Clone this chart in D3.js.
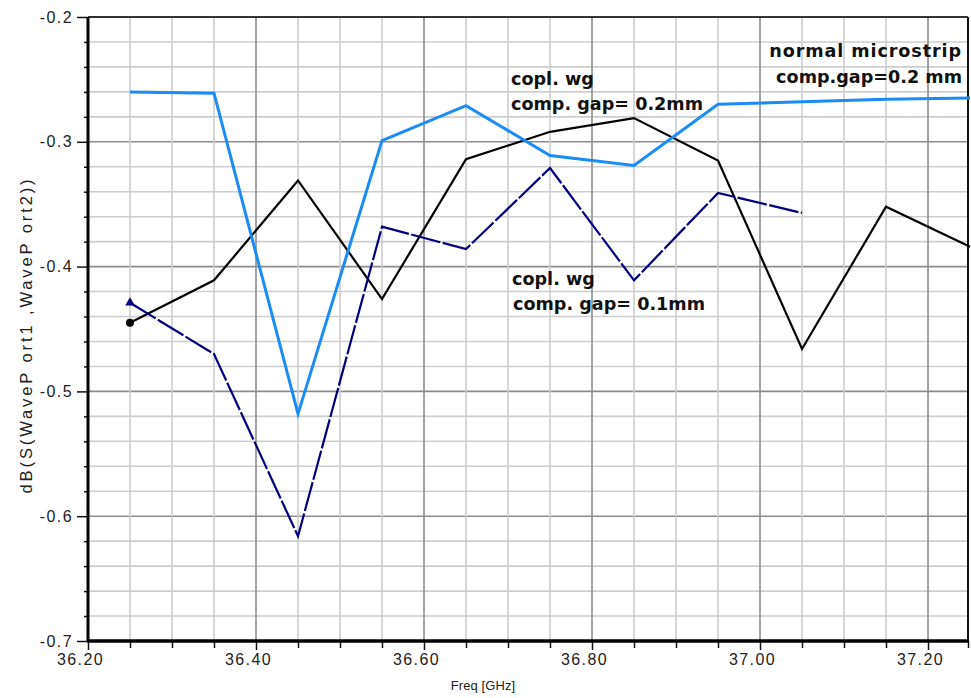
<!DOCTYPE html>
<html>
<head>
<meta charset="utf-8">
<script src="https://cdn.jsdelivr.net/npm/d3@7"></script>
<style>
  html, body { margin: 0; padding: 0; background: #fff; }
  svg { display: block; }
</style>
</head>
<body>
<svg id="chart" width="971" height="698"></svg>
<script>
// Frequency sweep points (GHz)
const freqAll = [36.25, 36.35, 36.45, 36.55, 36.65, 36.75, 36.85, 36.95, 37.05, 37.15, 37.25];
const freqShort = [36.25, 36.35, 36.45, 36.55, 36.65, 36.75, 36.85, 36.95, 37.05];

// Insertion loss, dB(S(WavePort1,WavePort2))
const microstrip02 = [-0.260, -0.261, -0.518, -0.299, -0.271, -0.311, -0.319, -0.270, -0.268, -0.266, -0.265];
const coplanar02   = [-0.445, -0.411, -0.331, -0.426, -0.314, -0.292, -0.281, -0.315, -0.466, -0.352, -0.384];
const coplanar01   = [-0.429, -0.470, -0.616, -0.368, -0.386, -0.321, -0.411, -0.341, -0.357];

// Axis ticks
const xTickLabels = ["36.20", "36.40", "36.60", "36.80", "37.00", "37.20"];
const yTickLabels = ["-0.2", "-0.3", "-0.4", "-0.5", "-0.6", "-0.7"];

const svg = d3.select("#chart");
const plotL = 88, plotR = 968, plotT = 17, plotB = 641;

const x = d3.scaleLinear().domain([36.2, 37.2476]).range([plotL, plotR]);
const y = d3.scaleLinear().domain([-0.7, -0.2]).range([plotB, plotT]);

// Grid
const vMinor = d3.range(36.25, 37.24, 0.05).map(v => +v.toFixed(2));
const hMinor = d3.range(-0.68, -0.205, 0.02).map(v => +v.toFixed(2));
const isMajorX = v => Math.abs(Math.round(v * 5) - v * 5) < 1e-6;
const isMajorY = v => Math.abs(Math.round(v * 10) - v * 10) < 1e-6;

const grid = svg.append("g");
grid.selectAll("line.h").data(hMinor).join("line")
  .attr("x1", plotL).attr("x2", plotR)
  .attr("y1", d => y(d)).attr("y2", d => y(d))
  .attr("stroke", d => isMajorY(d) ? "#8c8c8c" : "#cdcdcd")
  .attr("stroke-width", 1.6);
grid.selectAll("line.v").data(vMinor).join("line")
  .attr("y1", plotT).attr("y2", plotB)
  .attr("x1", d => x(d)).attr("x2", d => x(d))
  .attr("stroke", d => isMajorX(d) ? "#8c8c8c" : "#cdcdcd")
  .attr("stroke-width", 1.6);

// Frame
svg.append("line").attr("x1", plotL).attr("x2", plotR).attr("y1", plotT).attr("y2", plotT)
  .attr("stroke", "#333").attr("stroke-width", 2);
svg.append("line").attr("x1", plotR).attr("x2", plotR).attr("y1", plotT).attr("y2", plotB)
  .attr("stroke", "#111").attr("stroke-width", 2);

// Y axis
const yAxis = d3.axisLeft(y)
  .tickValues([-0.2, -0.3, -0.4, -0.5, -0.6, -0.7])
  .tickFormat((d, i) => yTickLabels[i])
  .tickSize(11).tickPadding(4);
const gy = svg.append("g").attr("transform", `translate(${plotL},0)`).call(yAxis);
gy.select(".domain").remove();
gy.selectAll(".tick line").attr("stroke", "#111").attr("stroke-width", 1.5);
gy.selectAll(".tick text")
  .attr("font-family", "'Liberation Sans', Arial, sans-serif")
  .attr("font-size", 16).attr("letter-spacing", 1.4).attr("fill", "#222");
const gyMinor = svg.append("g").attr("transform", `translate(${plotL},0)`)
  .call(d3.axisLeft(y).tickValues(hMinor.filter(d => !isMajorY(d))).tickSize(4).tickFormat(""));
gyMinor.select(".domain").remove();
gyMinor.selectAll(".tick line").attr("stroke", "#111").attr("stroke-width", 1.5);

// X axis
const xAxis = d3.axisBottom(x)
  .tickValues([36.2, 36.4, 36.6, 36.8, 37.0, 37.2])
  .tickFormat((d, i) => xTickLabels[i])
  .tickSize(9).tickPadding(4);
const gx = svg.append("g").attr("transform", `translate(0,${plotB})`).call(xAxis);
gx.select(".domain").remove();
gx.selectAll(".tick line").attr("stroke", "#111").attr("stroke-width", 1.5);
gx.selectAll(".tick text")
  .attr("font-family", "'Liberation Sans', Arial, sans-serif")
  .attr("font-size", 16).attr("letter-spacing", 1.4).attr("fill", "#222")
  .attr("dx", -8);
const gxMinor = svg.append("g").attr("transform", `translate(0,${plotB})`)
  .call(d3.axisBottom(x).tickValues(vMinor.filter(d => !isMajorX(d)).concat([37.2476])).tickSize(7).tickFormat(""));
gxMinor.select(".domain").remove();
gxMinor.selectAll(".tick line").attr("stroke", "#111").attr("stroke-width", 1.5);

// Axis lines
svg.append("line").attr("x1", plotL).attr("x2", plotL).attr("y1", plotT).attr("y2", plotB)
  .attr("stroke", "#000").attr("stroke-width", 3);
svg.append("line").attr("x1", plotL - 1).attr("x2", plotR + 1).attr("y1", plotB).attr("y2", plotB)
  .attr("stroke", "#000").attr("stroke-width", 3.5);

// Axis titles
svg.append("text").attr("x", 483).attr("y", 690).attr("text-anchor", "middle")
  .attr("font-family", "'Liberation Sans', Arial, sans-serif").attr("font-size", 13)
  .attr("letter-spacing", 0.1).attr("fill", "#222").text("Freq [GHz]");
svg.append("text").attr("transform", "translate(32,335) rotate(-90)").attr("text-anchor", "middle")
  .attr("font-family", "'Liberation Sans', Arial, sans-serif").attr("font-size", 16.5)
  .attr("letter-spacing", 2.9).attr("fill", "#222").text("dB(S(WaveP ort1 ,WaveP ort2))");

// Traces
const line = d3.line().x(d => x(d[0])).y(d => y(d[1]));
const plot = svg.append("g");

plot.append("path").datum(d3.zip(freqAll, coplanar02)).attr("d", line)
  .attr("fill", "none").attr("stroke", "#000").attr("stroke-width", 2.2);
plot.append("path").datum(d3.zip(freqShort, coplanar01)).attr("d", line)
  .attr("fill", "none").attr("stroke", "#00007e").attr("stroke-width", 2.2)
  .attr("stroke-dasharray", "30,2.5");
plot.append("path").datum(d3.zip(freqAll, microstrip02)).attr("d", line)
  .attr("fill", "none").attr("stroke", "#1a8cf5").attr("stroke-width", 3);

// Start markers
plot.append("circle").attr("cx", x(freqAll[0])).attr("cy", y(coplanar02[0])).attr("r", 4).attr("fill", "#000");
plot.append("path")
  .attr("d", d3.symbol(d3.symbolTriangle, 40)())
  .attr("transform", `translate(${x(freqShort[0])},${y(coplanar01[0])})`)
  .attr("fill", "#00007e");

// Annotations
const notes = [
  { text: "normal microstrip", x: 962, y: 57, anchor: "end", ls: 0.9 },
  { text: "comp.gap=0.2 mm", x: 962, y: 83, anchor: "end", ls: 0 },
  { text: "copl. wg", x: 511, y: 85, anchor: "start", ls: 0 },
  { text: "comp. gap= 0.2mm", x: 511, y: 110, anchor: "start", ls: 0 },
  { text: "copl. wg", x: 512, y: 285, anchor: "start", ls: 0 },
  { text: "comp. gap= 0.1mm", x: 513, y: 310, anchor: "start", ls: 0 }
];
svg.append("g").selectAll("text").data(notes).join("text")
  .attr("x", d => d.x).attr("y", d => d.y).attr("text-anchor", d => d.anchor)
  .attr("letter-spacing", d => d.ls)
  .attr("font-family", "'DejaVu Sans', Verdana, sans-serif").attr("font-weight", "bold")
  .attr("font-size", 17.6).attr("fill", "#111").text(d => d.text);
</script>
</body>
</html>
